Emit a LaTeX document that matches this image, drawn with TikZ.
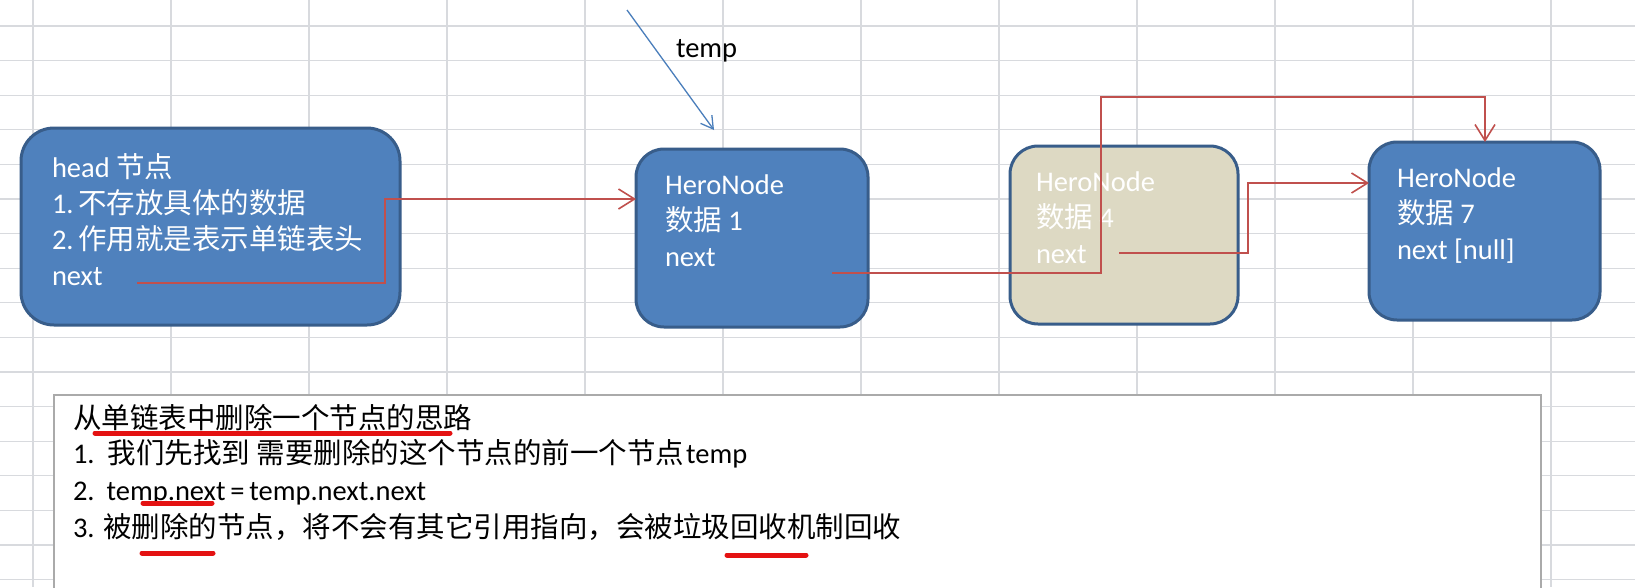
\documentclass[tikz,border=0pt]{standalone}
\usepackage{fontspec}
\setmainfont{Carlito}
\newfontfamily\zh{Noto Sans CJK SC}
\usetikzlibrary{arrows.meta}
\definecolor{gridcol}{RGB}{216,218,222}
\definecolor{nodefill}{RGB}{79,129,189}
\definecolor{nodeline}{RGB}{56,93,138}
\definecolor{beigefill}{RGB}{221,217,195}
\definecolor{linkred}{RGB}{192,80,77}
\definecolor{tempblue}{RGB}{74,126,187}
\definecolor{hlred}{RGB}{228,18,18}
\definecolor{notebord}{RGB}{170,170,170}
\begin{document}
\begin{tikzpicture}[x=1pt,y=-1pt,
  every node/.style={inner sep=0pt,outer sep=0pt},
  card/.style={draw=nodeline,line width=3pt,fill=nodefill,rounded corners=28pt,anchor=north west},
  txt/.style={anchor=base west,font=\fontsize{28.5}{34}\selectfont,text=white},
  ntxt/.style={anchor=base west,font=\fontsize{28.5}{34}\selectfont,text=black},
  gridline/.style={draw=gridcol,line width=1.1pt},
  redlink/.style={draw=linkred,line width=1.6pt,-{Straight Barb[length=16pt,width=20pt]}},
  templink/.style={draw=tempblue,line width=1.3pt,-{Straight Barb[length=12pt,width=14pt]}},
  hl/.style={draw=hlred,line width=5pt,line cap=round}
]
\useasboundingbox (0,0) rectangle (1635,587);
\clip (0,0) rectangle (1635,587);
\fill[white] (0,0) rectangle (1635,587);
% grid
\foreach \i in {0,...,11} \draw[gridline] ({33+138*\i},0) -- ++(0,587);
\foreach \i in {0,...,16} \draw[gridline] (0,{26+34.6*\i}) -- ++(1635,0);

% boxes
\node[card,rounded corners=33pt,minimum width=379pt,minimum height=197pt] (head) at (21,128) {};
\node[card,minimum width=232pt,minimum height=178pt] (n1) at (636,149) {};
\node[card,fill=beigefill,minimum width=228pt,minimum height=178pt] (n4) at (1010,146) {};
\node[card,minimum width=231pt,minimum height=178pt] (n7) at (1369,142) {};

% texts in boxes
\node[txt] (h1) at (52,177) {head {\zh 节点}};
\node[txt] (h2) at (52,213) {1.\,{\zh 不存放具体的数据}};
\node[txt] (h3) at (52,249) {2.\,{\zh 作用就是表示单链表头}};
\node[txt] (h4) at (52,285) {next};

\node[txt] (a1) at (665,194) {HeroNode};
\node[txt] (a2) at (665,230) {{\zh 数据} 1};
\node[txt] (a3) at (665,266) {next};

\node[txt] (b1) at (1036,191) {HeroNode};
\node[txt] (b2) at (1036,227) {{\zh 数据} 4};
\node[txt] (b3) at (1036,263) {next};

\node[txt] (c1) at (1397,187) {HeroNode};
\node[txt] (c2) at (1397,223) {{\zh 数据} 7};
\node[txt] (c3) at (1397,259) {next [null]};

% temp pointer
\node[ntxt] (templbl) at (676,57) {temp};
\coordinate (ts) at (627,10);
\coordinate (tt) at (714,130);
\draw[templink] (ts) -- (tt);

% connectors
\coordinate (hn) at (137,283);
\coordinate (n1in) at (636,199);
\draw[redlink] (hn) -| (385,199) -- (n1in);

\coordinate (n1n) at (832,273);
\coordinate (n7top) at (1485,142);
\draw[redlink] (n1n) -| (1101,97) -| (n7top);

\coordinate (n4n) at (1119,253);
\coordinate (n7in) at (1369,183);
\draw[redlink] (n4n) -| (1248,183) -- (n7in);

% note box
\node[draw=notebord,line width=1.3pt,fill=white,anchor=north west,minimum width=1487pt,minimum height=230pt] (note) at (54,395) {};
\node[ntxt] (l1) at (73,428) {{\zh 从单链表中删除一个节点的思路}};
\node[ntxt] (l2) at (73,463) {1.\hspace{13pt}{\zh 我们先找到} {\zh 需要删除的这个节点的前一个节点}\hspace{2pt}temp};
\node[ntxt] (l3) at (73,500) {2.\hspace{12pt}temp.next\,=\,temp.next.next};
\node[ntxt] (l4) at (73,537) {3. {\zh 被删除的节点，将不会有其它引用指向，会被垃圾回收机制回收}};

% red highlights
\draw[hl] (95,433) -- (450,433);
\draw[hl] (143,503) -- (212,503);
\draw[hl] (142,553) -- (213,553);
\draw[hl] (727,555) -- (806,555);
\end{tikzpicture}
\end{document}
